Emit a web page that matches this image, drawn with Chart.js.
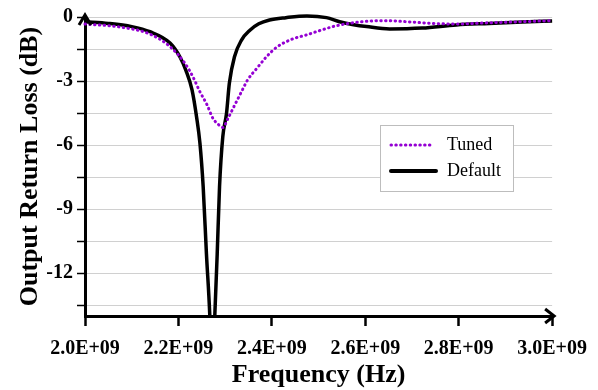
<!DOCTYPE html>
<html>
<head>
<meta charset="utf-8">
<script src="https://cdn.jsdelivr.net/npm/chart.js@4"></script>
<style>
  body { margin: 0; background: #fff; }
</style>
</head>
<body>
<canvas id="lossChart" width="598" height="390"></canvas>
<script>
// frequency in GHz (labels shown as x.xE+09), loss in dB
const tunedFreq = [2.0, 2.075, 2.139, 2.182, 2.214, 2.231, 2.246, 2.261, 2.274, 2.284, 2.295, 2.306, 2.321, 2.335, 2.348, 2.368, 2.389, 2.41, 2.444, 2.474, 2.502, 2.538, 2.594, 2.645, 2.688, 2.744, 2.795, 2.865, 2.936, 3.0];
const tunedLoss = [-0.33, -0.47, -0.8, -1.39, -2.17, -2.8, -3.5, -4.1, -4.75, -5.0, -5.17, -4.75, -4.1, -3.5, -2.95, -2.4, -1.85, -1.42, -1.03, -0.84, -0.64, -0.41, -0.22, -0.17, -0.22, -0.3, -0.33, -0.27, -0.22, -0.17];

const defaultFreq = [2.0, 2.05, 2.1, 2.139, 2.182, 2.203, 2.216, 2.229, 2.239, 2.246, 2.253, 2.26, 2.267, 2.2725, 2.278, 2.283, 2.288, 2.295, 2.303, 2.309, 2.32, 2.335, 2.353, 2.372, 2.395, 2.43, 2.475, 2.517, 2.545, 2.575, 2.603, 2.652, 2.722, 2.795, 2.865, 2.936, 3.0];
const defaultLoss = [-0.22, -0.3, -0.45, -0.69, -1.22, -1.86, -2.5, -3.4, -4.7, -5.9, -7.95, -11.1, -13.9, -17.5, -13.9, -11.1, -7.95, -5.6, -4.5, -3.1, -1.86, -1.08, -0.62, -0.32, -0.14, -0.03, 0.05, -0.03, -0.22, -0.36, -0.45, -0.56, -0.52, -0.37, -0.3, -0.23, -0.19];

const xTicks = [2.0, 2.2, 2.4, 2.6, 2.8, 3.0];
const yTicks = [0, -1.5, -3, -4.5, -6, -7.5, -9, -10.5, -12, -13.5];
const yLabeled = [0, -3, -6, -9, -12];

const toPoints = (xs, ys) => xs.map((x, i) => ({ x: x, y: ys[i] }));

const serif = '"Liberation Serif", "Times New Roman", serif';
const tickFont = { family: serif, size: 20, weight: 'bold' };
const titleFont = { family: serif, size: 26, weight: 'bold' };

// axis arrows + boxed legend
const decorations = {
    id: 'decorations',
    afterDatasetsDraw(chart) {
        const { ctx, chartArea } = chart;
        const l = chartArea.left, t = chartArea.top, r = chartArea.right, b = chartArea.bottom;
        ctx.save();
        ctx.strokeStyle = '#000';
        ctx.lineWidth = 3;
        ctx.lineJoin = 'miter';
        ctx.beginPath();
        ctx.moveTo(r - 7, b - 7);
        ctx.lineTo(r + 2, b);
        ctx.lineTo(r - 7, b + 7);
        ctx.stroke();
        ctx.beginPath();
        ctx.moveTo(l - 6, t + 8);
        ctx.lineTo(l, t - 2);
        ctx.lineTo(l + 6, t + 8);
        ctx.stroke();

        // legend
        const bx = l + 295, by = t + 108;
        ctx.fillStyle = '#fff';
        ctx.fillRect(bx, by, 133, 66);
        ctx.strokeStyle = '#bdbdbd';
        ctx.lineWidth = 1;
        ctx.strokeRect(bx + 0.5, by + 0.5, 133, 66);

        ctx.strokeStyle = '#9400D3';
        ctx.lineWidth = 3;
        ctx.lineCap = 'round';
        ctx.setLineDash([0.5, 4.3]);
        ctx.beginPath();
        ctx.moveTo(bx + 11, by + 20);
        ctx.lineTo(bx + 54, by + 20);
        ctx.stroke();

        ctx.setLineDash([]);
        ctx.strokeStyle = '#000';
        ctx.lineWidth = 4;
        ctx.beginPath();
        ctx.moveTo(bx + 11, by + 46);
        ctx.lineTo(bx + 56, by + 46);
        ctx.stroke();

        ctx.fillStyle = '#000';
        ctx.font = '18px ' + serif;
        ctx.textBaseline = 'middle';
        ctx.fillText('Tuned', bx + 67, by + 20);
        ctx.fillText('Default', bx + 67, by + 46);
        ctx.restore();
    }
};

const ctx = document.getElementById('lossChart').getContext('2d');
const lossChart = new Chart(ctx, {
    type: 'line',
    data: {
        datasets: [{
            label: 'Tuned',
            data: toPoints(tunedFreq, tunedLoss),
            borderColor: '#9400D3',
            borderWidth: 3,
            borderDash: [0.5, 4.3],
            borderCapStyle: 'round',
            pointRadius: 0,
            cubicInterpolationMode: 'monotone',
            clip: { left: 5, top: 5, right: 5, bottom: 0 }
        }, {
            label: 'Default',
            data: toPoints(defaultFreq, defaultLoss),
            borderColor: '#000',
            borderWidth: 3.5,
            pointRadius: 0,
            cubicInterpolationMode: 'monotone',
            clip: { left: 5, top: 5, right: 5, bottom: 0 }
        }]
    },
    options: {
        responsive: false,
        animation: false,
        layout: { padding: { left: 0, top: 17, right: 45, bottom: 0 } },
        plugins: {
            legend: { display: false },
            tooltip: { enabled: false }
        },
        scales: {
            x: {
                type: 'linear',
                min: 2.0,
                max: 3.0,
                afterBuildTicks: (scale) => { scale.ticks = xTicks.map(v => ({ value: v })); },
                afterFit: (scale) => { scale.height = 74; },
                grid: { drawOnChartArea: false, drawTicks: true, tickLength: 10, tickColor: '#000', tickWidth: 2.5 },
                border: { color: '#000', width: 3 },
                ticks: {
                    color: '#000',
                    font: tickFont,
                    padding: 11,
                    maxRotation: 0,
                    callback: (v) => Number(v).toFixed(1) + 'E+09'
                },
                title: { display: true, text: 'Frequency (Hz)', color: '#000', font: { family: serif, size: 26, weight: 'bold', lineHeight: 1.1 }, padding: { top: 0, bottom: 0 } }
            },
            y: {
                type: 'linear',
                min: -14,
                max: 0,
                afterBuildTicks: (scale) => { scale.ticks = yTicks.map(v => ({ value: v })); },
                afterFit: (scale) => { scale.width = 85; },
                grid: { color: '#d0d0d0', lineWidth: 1, drawTicks: true, tickLength: 8, tickColor: '#000', tickWidth: 1.5 },
                border: { color: '#000', width: 3 },
                ticks: {
                    color: '#000',
                    font: tickFont,
                    padding: 4,
                    autoSkip: false,
                    callback: (v) => yLabeled.includes(v) ? String(v) : ''
                },
                title: { display: true, text: 'Output Return Loss (dB)', color: '#000', font: titleFont, padding: { top: 15, bottom: 0 } }
            }
        }
    },
    plugins: [decorations]
});
</script>
</body>
</html>
